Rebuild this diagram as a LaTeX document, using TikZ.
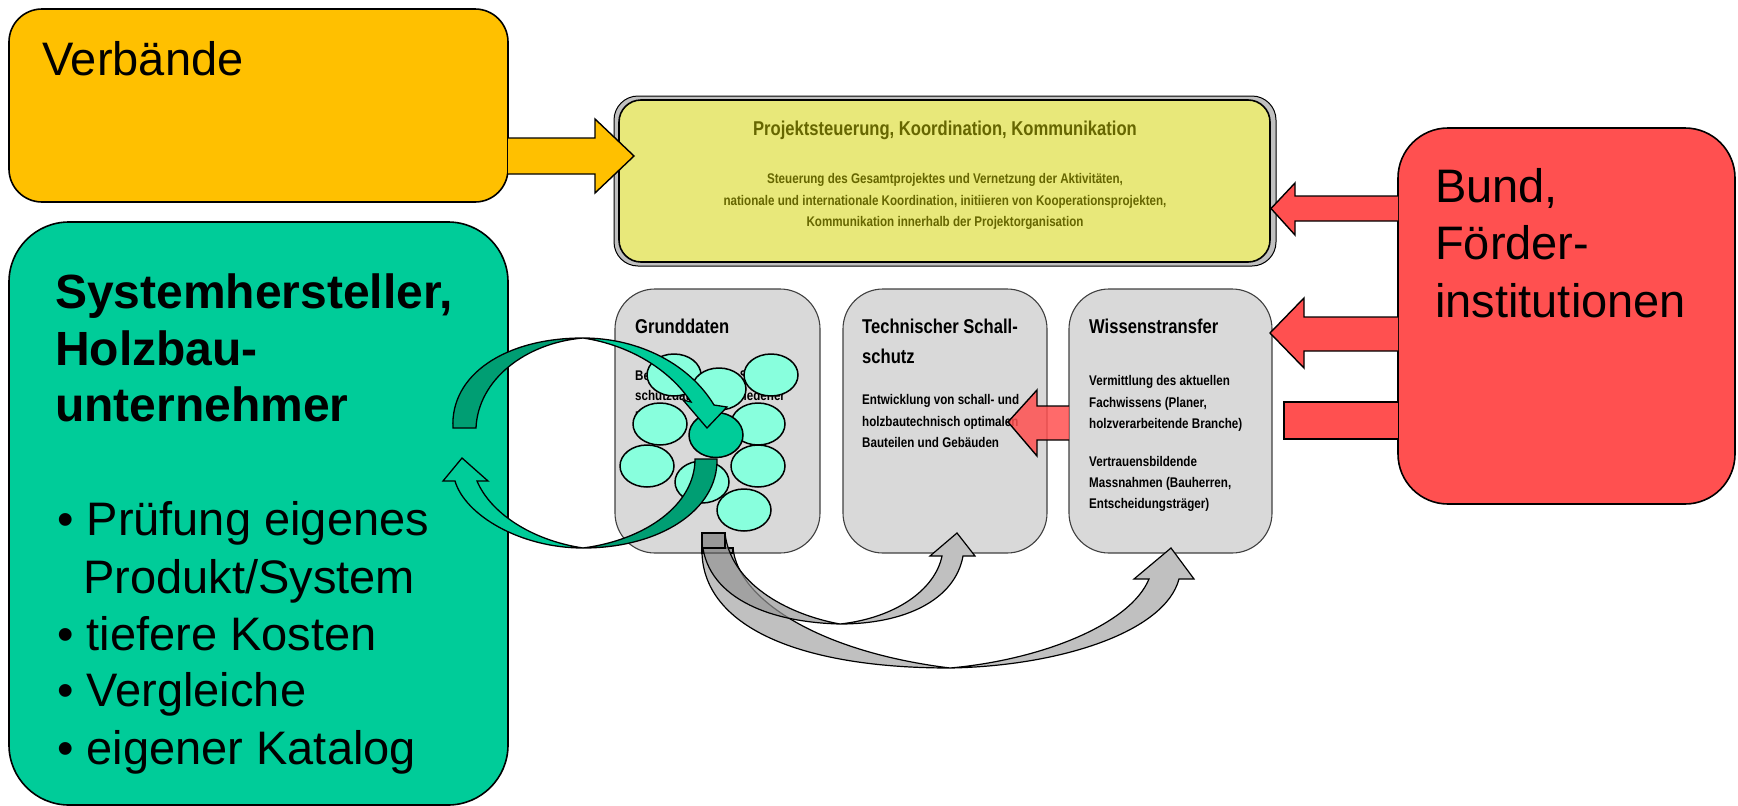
\documentclass[tikz,border=0pt]{standalone}
\usepackage{fontspec}
\setmainfont{Liberation Sans}
\newfontfamily\narrowbf{Liberation Sans Bold}[FakeStretch=0.83]
\usetikzlibrary{shapes.geometric}
\definecolor{orangeC}{RGB}{255,192,0}
\definecolor{greenC}{RGB}{0,204,153}
\definecolor{greenD}{RGB}{0,158,115}
\definecolor{redC}{RGB}{255,80,80}
\definecolor{yellowC}{RGB}{232,232,122}
\definecolor{oliveC}{RGB}{102,102,0}
\definecolor{grayC}{RGB}{217,217,217}
\definecolor{grayS}{RGB}{192,192,192}
\definecolor{aquaC}{RGB}{136,255,221}
\definecolor{grayL}{RGB}{192,192,192}
\definecolor{grayD}{RGB}{150,150,150}
\tikzset{
  outl/.style={draw=black, line width=1.6pt},
  graybox/.style={draw=black!75, line width=1.1pt, fill=grayC, rounded corners=40pt},
  bigtxt/.style={anchor=base west, inner sep=0pt, font=\fontsize{47}{57}\selectfont},
  bigbold/.style={anchor=base west, inner sep=0pt, font=\bfseries\fontsize{48}{57}\selectfont},
  ytxt/.style={anchor=base, inner sep=0pt, text=oliveC, font=\narrowbf\fontsize{14}{16}\selectfont},
  ttl/.style={anchor=base west, inner sep=0pt, font=\narrowbf\fontsize{20}{24}\selectfont},
  btxt/.style={anchor=base west, inner sep=0pt, font=\narrowbf\fontsize{14}{17}\selectfont},
  ell/.style={ellipse, draw=black, line width=1.5pt, fill=aquaC, minimum width=54pt, minimum height=42pt, inner sep=0pt},
  blk/.style={draw=black, line width=1.4pt, line join=miter},
}
\begin{document}
\begin{tikzpicture}[x=1pt,y=-1pt]
\useasboundingbox (0,0) rectangle (1738,806);

% ---------- big boxes ----------
\draw[outl, fill=orangeC, rounded corners=33pt] (9,9) rectangle (508,202);
\node[bigtxt] (tverb) at (42,75) {Verbände};

\draw[outl, fill=greenC, rounded corners=60pt] (9,222) rectangle (508,805);
\node[bigbold] (g1) at (55,308) {Systemhersteller,};
\node[bigbold] (g2) at (55,365) {Holzbau-};
\node[bigbold] (g3) at (55,421) {unternehmer};
\node[bigtxt] (b1) at (57,535) {• Prüfung eigenes};
\node[bigtxt] (b1b) at (83,593) {Produkt/System};
\node[bigtxt] (b2) at (57,650) {• tiefere Kosten};
\node[bigtxt] (b3) at (57,706) {• Vergleiche};
\node[bigtxt] (b4) at (57,764) {• eigener Katalog};

\draw[outl, fill=redC, rounded corners=50pt] (1398,128) rectangle (1735,504);
\node[bigtxt] (r1) at (1435,202) {Bund,};
\node[bigtxt] (r2) at (1435,259) {Förder-};
\node[bigtxt] (r3) at (1435,317) {institutionen};

% ---------- project box ----------
\draw[draw=black, line width=1pt, fill=grayS, rounded corners=24pt] (614,96) rectangle (1276,266);
\draw[outl, fill=yellowC, rounded corners=22pt] (619,100) rectangle (1270,262);
\node[anchor=base, inner sep=0pt, text=oliveC, font=\narrowbf\fontsize{20}{24}\selectfont] (ptitle) at (945,135) {Projektsteuerung, Koordination, Kommunikation};
\node[ytxt] (y1) at (945,183) {Steuerung des Gesamtprojektes und Vernetzung der Aktivitäten,};
\node[ytxt] (y2) at (945,205) {nationale und internationale Koordination, initiieren von Kooperationsprojekten,};
\node[ytxt] (y3) at (945,226) {Kommunikation innerhalb der Projektorganisation};

% ---------- three gray boxes ----------
\draw[graybox] (615,289) rectangle (820,553);
\draw[graybox] (843,289) rectangle (1047,553);
\draw[graybox] (1069,289) rectangle (1272,553);

\node[ttl] (t1) at (635,333) {Grunddaten};
\node[btxt] (gd1) at (635,380) {Bereitstellung von Schall-};
\node[btxt] (gd2) at (635,400) {schutzdaten verschiedener};
\node[btxt] (gd3) at (635,421) {Bauteile};

\node[ttl] (t2) at (862,333) {Technischer Schall-};
\node[ttl] (t2b) at (862,363) {schutz};
\node[btxt] (ts1) at (862,404) {Entwicklung von schall- und};
\node[btxt] (ts2) at (862,426) {holzbautechnisch optimalen};
\node[btxt] (ts3) at (862,447) {Bauteilen und Gebäuden};

\node[ttl] (t3) at (1089,333) {Wissenstransfer};
\node[btxt] (w1) at (1089,385) {Vermittlung des aktuellen};
\node[btxt] (w2) at (1089,407) {Fachwissens (Planer,};
\node[btxt] (w3) at (1089,428) {holzverarbeitende Branche)};
\node[btxt] (w4) at (1089,466) {Vertrauensbildende};
\node[btxt] (w5) at (1089,487) {Massnahmen (Bauherren,};
\node[btxt] (w6) at (1089,508) {Entscheidungsträger)};

% ---------- ellipses ----------
\node[ell] (e1) at (674,375) {};
\node[ell] (e2) at (719,389) {};
\node[ell] (e3) at (771,375) {};
\node[ell] (e4) at (660,424) {};
\node[ell] (e5) at (758,424) {};
\node[ell] (e7) at (647,466) {};
\node[ell] (e8) at (758,466) {};
\node[ell] (e9) at (702,482) {};
\node[ell] (e10) at (744,510) {};
\node[ell, fill=greenC, minimum height=45pt] (e6) at (716,435) {};

% ---------- block arrows ----------
\draw[blk, fill=orangeC] (508,138)--(595,138)--(595,119)--(634,156)--(595,193)--(595,174)--(508,174);
\draw[blk, fill=redC] (1398,196)--(1295,196)--(1295,183)--(1271,208.5)--(1295,235)--(1295,221)--(1398,221);
\draw[blk, fill=redC] (1398,317)--(1304,317)--(1304,298)--(1270,333)--(1304,368)--(1304,351)--(1398,351);
\draw[blk, fill=redC] (1398,402)--(1284,402)--(1284,439)--(1398,439);
\draw[blk, fill=redC, fill opacity=0.85] (1069,406)--(1037,406)--(1037,390)--(1008,422)--(1037,456)--(1037,440)--(1069,440);

% ---------- green circular arrows ----------
\draw[blk, line width=1.3pt, fill=greenD] (453,428) .. controls (450,375) and (505,338) .. (583,338)
   .. controls (525,343) and (478,380) .. (476,428) -- cycle;
\draw[blk, line width=1.3pt, fill=greenC] (583,338) .. controls (640,338) and (690,365) .. (714,405)
   -- (727,407) -- (707,428) -- (683,400) -- (691,402) .. controls (670,370) and (630,345) .. (583,338) -- cycle;

\draw[blk, line width=1.3pt, fill=greenD] (717,459) .. controls (718,510) and (660,548) .. (583,548)
   .. controls (645,540) and (695,505) .. (695,459) -- cycle;
\draw[blk, line width=1.3pt, fill=greenC] (583,548) .. controls (520,548) and (465,515) .. (455,481)
   -- (443,481) -- (462,458) -- (488,481) -- (477,481) .. controls (490,512) and (530,540) .. (583,548) -- cycle;

% ---------- gray curved arrows ----------
\draw[blk, line width=1.2pt, fill=grayL] (702,548) .. controls (700,622) and (790,668) .. (950,668)
   .. controls (820,652) and (738,600) .. (733,548) -- cycle;
\draw[blk, line width=1.2pt, fill=grayL] (950,668) .. controls (1060,666) and (1165,632) .. (1179,579)
   -- (1194,579) -- (1171,548) -- (1134,579) -- (1149,579) .. controls (1130,625) and (1040,660) .. (950,668) -- cycle;
\draw[blk, line width=1.2pt, fill=grayD, fill opacity=0.85] (702,548) rectangle (733,553);

\draw[blk, line width=1.2pt, fill=grayD, fill opacity=0.7] (702,533) .. controls (700,592) and (760,622) .. (840,624)
   .. controls (785,614) and (730,582) .. (725,533) -- cycle;
\draw[blk, line width=1.2pt, fill=grayL] (840,624) .. controls (905,624) and (955,600) .. (963,556)
   -- (975,556) -- (957,533) -- (930,556) -- (942,556) .. controls (935,590) and (895,618) .. (840,624) -- cycle;
\draw[blk, line width=1.2pt, fill=grayD, fill opacity=0.85] (702,533) rectangle (725,548);
\end{tikzpicture}
\end{document}
